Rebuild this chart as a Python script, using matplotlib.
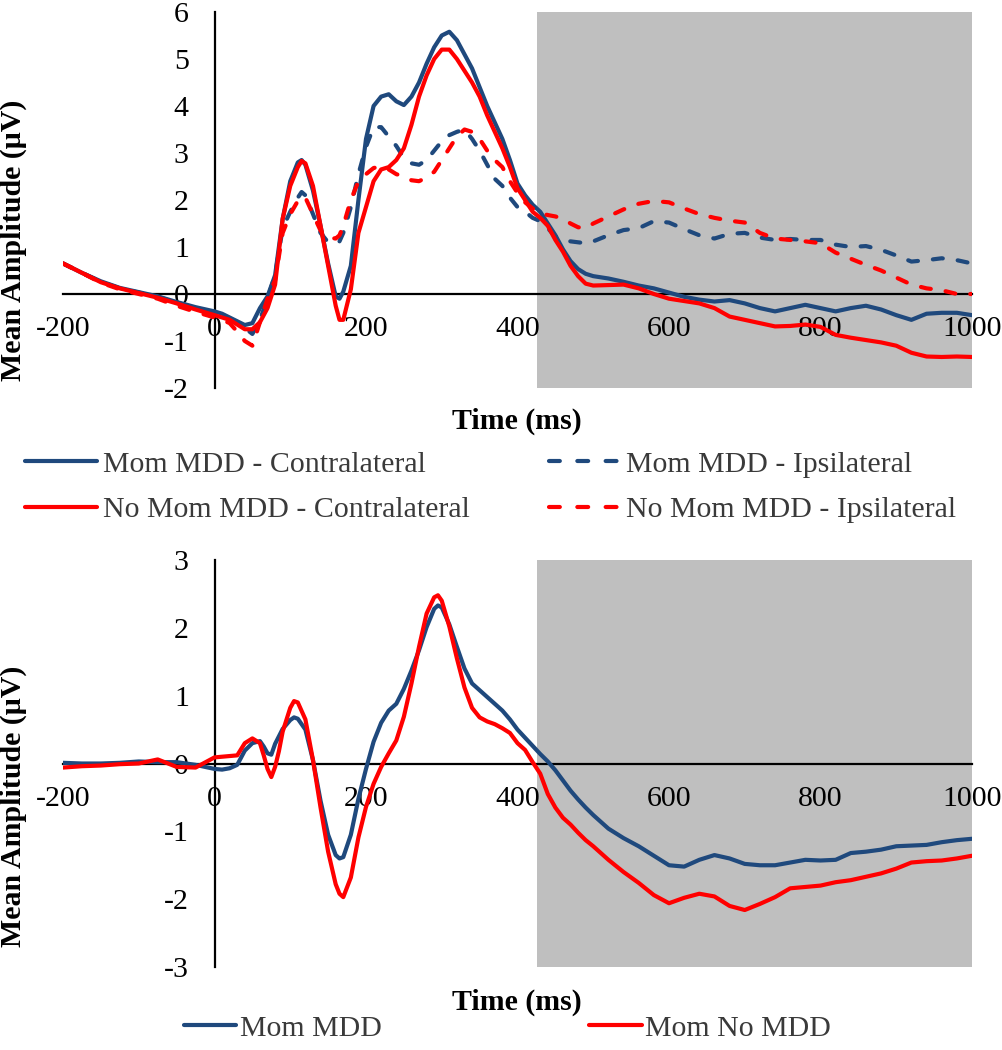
import matplotlib
matplotlib.use("Agg")
import matplotlib.pyplot as plt
from matplotlib.lines import Line2D

plt.rcParams['font.family'] = ['Liberation Serif', 'DejaVu Serif']
plt.rcParams['axes.unicode_minus'] = False

# ---- data: top panel (contralateral / ipsilateral waveforms) ----
t_top = [-200, -175, -150, -125, -100, -75, -50, -25, 0, 10, 20, 30, 40, 50, 60,
         70, 80, 90, 100, 110, 115, 120, 130, 140, 150, 160, 165, 170, 180, 190,
         200, 210, 220, 230, 240, 250, 260, 270, 280, 290, 300, 310, 320, 330,
         340, 350, 360, 370, 380, 390, 400, 410, 420, 430, 440, 450, 460, 470,
         480, 490, 500, 520, 540, 560, 580, 600, 620, 640, 660, 680, 700, 720,
         740, 760, 780, 800, 820, 840, 860, 880, 900, 920, 940, 960, 980, 1000]

mom_contra = [0.65, 0.45, 0.27, 0.13, 0.04, -0.05, -0.17, -0.28, -0.37, -0.42, -0.5,
              -0.58, -0.66, -0.62, -0.3, -0.05, 0.4, 1.6, 2.4, 2.8, 2.85, 2.75, 2.2,
              1.45, 0.65, -0.05, -0.1, 0.05, 0.6, 2.0, 3.3, 4.0, 4.2, 4.25, 4.1,
              4.02, 4.2, 4.5, 4.9, 5.25, 5.5, 5.58, 5.4, 5.1, 4.8, 4.4, 4.0, 3.65,
              3.3, 2.85, 2.35, 2.1, 1.9, 1.75, 1.5, 1.25, 0.95, 0.7, 0.53, 0.43,
              0.38, 0.33, 0.26, 0.18, 0.12, 0.03, -0.06, -0.12, -0.16, -0.13, -0.2,
              -0.3, -0.37, -0.3, -0.23, -0.3, -0.37, -0.3, -0.25, -0.33, -0.45,
              -0.55, -0.42, -0.4, -0.4, -0.45]

nomom_contra = [0.65, 0.45, 0.25, 0.12, 0.02, -0.08, -0.2, -0.33, -0.45, -0.5, -0.55,
                -0.65, -0.75, -0.75, -0.6, -0.3, 0.2, 1.6, 2.3, 2.7, 2.83, 2.78, 2.3,
                1.45, 0.6, -0.25, -0.55, -0.55, 0.1, 1.3, 1.85, 2.4, 2.65, 2.7, 2.85,
                3.1, 3.6, 4.2, 4.65, 5.0, 5.2, 5.2, 5.0, 4.75, 4.5, 4.2, 3.8, 3.45,
                3.1, 2.7, 2.25, 2.0, 1.75, 1.62, 1.45, 1.15, 0.9, 0.6, 0.38, 0.22,
                0.18, 0.19, 0.2, 0.12, 0.0, -0.1, -0.15, -0.2, -0.3, -0.48, -0.55,
                -0.62, -0.69, -0.68, -0.65, -0.7, -0.87, -0.93, -0.98, -1.03, -1.1,
                -1.25, -1.33, -1.34, -1.33, -1.34]

mom_ipsi = [0.65, 0.45, 0.26, 0.12, 0.03, -0.06, -0.18, -0.3, -0.4, -0.45, -0.52,
            -0.6, -0.72, -0.85, -0.55, -0.1, 0.4, 1.4, 1.75, 2.05, 2.17, 2.1, 1.7,
            1.3, 1.1, 1.08, 1.12, 1.3, 1.85, 2.55, 3.13, 3.55, 3.55, 3.35, 3.15,
            2.9, 2.78, 2.75, 2.85, 3.05, 3.25, 3.38, 3.45, 3.5, 3.3, 3.05, 2.75,
            2.45, 2.3, 2.05, 1.85, 1.75, 1.62, 1.55, 1.4, 1.22, 1.15, 1.12, 1.1,
            1.08, 1.12, 1.25, 1.36, 1.4, 1.55, 1.52, 1.38, 1.25, 1.18, 1.28, 1.3,
            1.2, 1.15, 1.17, 1.15, 1.15, 1.05, 1.0, 1.02, 0.94, 0.82, 0.69, 0.72,
            0.76, 0.72, 0.65]

nomom_ipsi = [0.65, 0.45, 0.24, 0.1, 0.0, -0.1, -0.25, -0.38, -0.5, -0.55, -0.62,
              -0.8, -1.0, -1.1, -0.6, -0.1, 0.3, 1.3, 1.7, 1.98, 2.07, 2.05, 1.7,
              1.35, 1.2, 1.18, 1.25, 1.45, 2.0, 2.4, 2.55, 2.68, 2.72, 2.65, 2.55,
              2.5, 2.42, 2.4, 2.48, 2.6, 2.85, 3.1, 3.35, 3.5, 3.45, 3.3, 3.05,
              2.85, 2.7, 2.4, 2.15, 1.95, 1.82, 1.72, 1.68, 1.65, 1.6, 1.5, 1.42,
              1.4, 1.5, 1.65, 1.8, 1.92, 1.98, 1.95, 1.82, 1.7, 1.62, 1.56, 1.52,
              1.3, 1.18, 1.15, 1.12, 1.08, 0.88, 0.75, 0.62, 0.5, 0.35, 0.2, 0.12,
              0.08, 0.0, 0.0]

# ---- data: bottom panel (difference waveforms) ----
t_bot = [-200, -175, -150, -125, -100, -75, -50, -25, 0, 10, 20, 30, 40, 50, 60,
         65, 70, 75, 80, 85, 90, 100, 105, 110, 120, 130, 140, 150, 160, 165,
         170, 180, 190, 200, 210, 220, 230, 240, 250, 260, 270, 280, 290, 295,
         300, 310, 320, 330, 340, 350, 360, 370, 380, 390, 400, 410, 420, 430,
         440, 450, 460, 470, 480, 490, 500, 520, 540, 560, 580, 600, 620, 640,
         660, 680, 700, 720, 740, 760, 780, 800, 820, 840, 860, 880, 900, 920,
         940, 960, 980, 1000]

mom_mdd = [0.01, 0.0, 0.0, 0.01, 0.03, 0.02, 0.02, -0.02, -0.08, -0.09, -0.07,
           -0.02, 0.19, 0.3, 0.33, 0.25, 0.15, 0.13, 0.29, 0.4, 0.51, 0.64, 0.68,
           0.66, 0.5, 0.05, -0.55, -1.05, -1.35, -1.4, -1.38, -1.05, -0.52, -0.08,
           0.32, 0.6, 0.78, 0.88, 1.1, 1.37, 1.67, 2.01, 2.28, 2.33, 2.3, 2.05,
           1.72, 1.4, 1.18, 1.08, 0.98, 0.88, 0.78, 0.65, 0.5, 0.38, 0.26, 0.14,
           0.03, -0.1, -0.25, -0.4, -0.53, -0.65, -0.76, -0.96, -1.1, -1.22, -1.36,
           -1.5, -1.52, -1.42, -1.35, -1.4, -1.48, -1.5, -1.5, -1.46, -1.42, -1.43,
           -1.42, -1.32, -1.3, -1.27, -1.22, -1.21, -1.2, -1.16, -1.13, -1.11]

mom_no_mdd = [-0.06, -0.04, -0.03, -0.01, 0.0, 0.06, -0.05, -0.06, 0.09, 0.1, 0.11,
              0.12, 0.3, 0.37, 0.3, 0.12, -0.08, -0.2, -0.05, 0.18, 0.47, 0.82,
              0.92, 0.9, 0.65, 0.05, -0.65, -1.3, -1.78, -1.92, -1.97, -1.68, -1.09,
              -0.64, -0.3, -0.05, 0.15, 0.34, 0.69, 1.18, 1.72, 2.21, 2.45, 2.48,
              2.4, 2.02, 1.55, 1.12, 0.82, 0.68, 0.62, 0.58, 0.52, 0.45, 0.3, 0.2,
              0.02, -0.15, -0.45, -0.65, -0.8, -0.9, -1.02, -1.13, -1.22, -1.42,
              -1.6, -1.76, -1.94, -2.06, -1.98, -1.92, -1.96, -2.1, -2.16, -2.07,
              -1.97, -1.84, -1.82, -1.8, -1.75, -1.72, -1.67, -1.62, -1.55, -1.46,
              -1.44, -1.43, -1.4, -1.36]

x_ticks = [-200, 0, 200, 400, 600, 800, 1000]
window = (426, 1000)

BLUE = '#1F497D'
RED = '#FF0000'
SHADE = '#BFBFBF'
FS = 21.5
LW = 3.0
DASH = (2.4, 3.6)

W, H = 1003, 1050
fig = plt.figure(figsize=(W / 100, H / 100), dpi=100)


def style_axes(ax, ylo, yhi):
    ax.set_xlim(-200, 1000)
    ax.set_ylim(ylo, yhi)
    ax.axvspan(window[0], window[1], color=SHADE, zorder=0, lw=0)
    for side in ('top', 'right'):
        ax.spines[side].set_visible(False)
    ax.spines['left'].set_position(('data', 0))
    ax.spines['bottom'].set_position(('data', 0))
    for side in ('left', 'bottom'):
        ax.spines[side].set_linewidth(1.6)
        ax.spines[side].set_zorder(1)
    ax.set_xticks(x_ticks)
    ax.set_yticks(range(ylo, yhi + 1))
    ax.tick_params(axis='x', length=0, pad=16, labelsize=FS)
    ax.tick_params(axis='y', length=0, pad=18.5, labelsize=FS)
    ax.patch.set_visible(False)


# top panel
ax1 = fig.add_axes([63 / W, 1 - 388 / H, 909 / W, 376 / H])
style_axes(ax1, -2, 6)
ax1.plot(t_top, mom_contra, color=BLUE, lw=LW, zorder=3, solid_capstyle='round')
ax1.plot(t_top, mom_ipsi, color=BLUE, lw=LW, zorder=3, dashes=DASH,
         dash_capstyle='round')
ax1.plot(t_top, nomom_contra, color=RED, lw=LW, zorder=4, solid_capstyle='round')
ax1.plot(t_top, nomom_ipsi, color=RED, lw=LW, zorder=4, dashes=DASH,
         dash_capstyle='round')

# bottom panel
ax2 = fig.add_axes([63 / W, 1 - 967 / H, 909 / W, 407 / H])
style_axes(ax2, -3, 3)
ax2.plot(t_bot, mom_mdd, color=BLUE, lw=LW, zorder=3, solid_capstyle='round')
ax2.plot(t_bot, mom_no_mdd, color=RED, lw=LW, zorder=4, solid_capstyle='round')

# axis titles
for yc in (240, 806):
    fig.text(13 / W, 1 - yc / H, 'Mean Amplitude (\u03bcV)', rotation=90,
             ha='center', va='center', fontsize=FS, fontweight='bold')
for yc in (421, 1002):
    fig.text(517 / W, 1 - yc / H, 'Time (ms)', ha='center', va='center',
             fontsize=FS, fontweight='bold')

# legends
def handle(color, dashed=False):
    if dashed:
        return Line2D([], [], color=color, lw=LW, dashes=(2.6, 4.2),
                      dash_capstyle='round')
    return Line2D([], [], color=color, lw=LW, solid_capstyle='round')


leg1 = fig.legend(
    [handle(BLUE), handle(RED), handle(BLUE, True), handle(RED, True)],
    ['Mom MDD - Contralateral', 'No Mom MDD - Contralateral',
     'Mom MDD - Ipsilateral', 'No Mom MDD - Ipsilateral'],
    ncol=2, loc='upper left', bbox_to_anchor=(25 / W, 1 - 451 / H),
    frameon=False, fontsize=FS, borderpad=0, borderaxespad=0,
    handlelength=2.4, handletextpad=0.2, columnspacing=2.65, labelspacing=0.62)
for txt in leg1.get_texts():
    txt.set_color('#3a3a3a')

leg2 = fig.legend(
    [handle(BLUE), handle(RED)], ['Mom MDD', 'Mom No MDD'],
    ncol=2, loc='upper left', bbox_to_anchor=(184 / W, 1 - 1015 / H),
    frameon=False, fontsize=FS, borderpad=0, borderaxespad=0,
    handlelength=1.75, handletextpad=0.12, columnspacing=6.95)
for txt in leg2.get_texts():
    txt.set_color('#3a3a3a')

fig.savefig('out.png', dpi=100)
